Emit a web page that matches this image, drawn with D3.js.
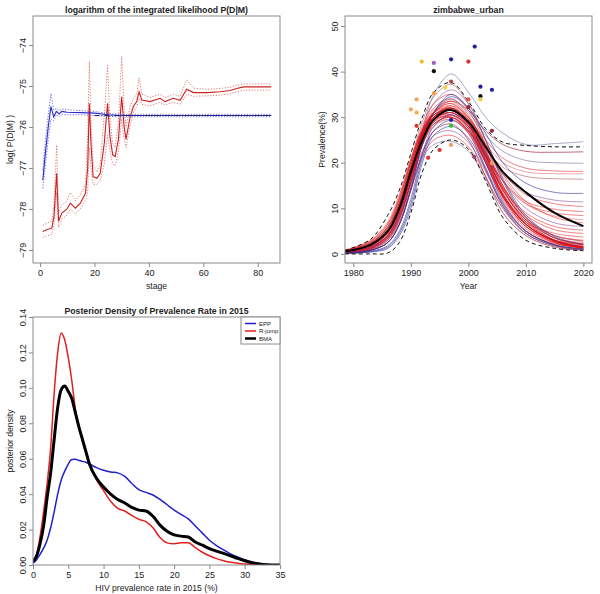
<!DOCTYPE html>
<html><head><meta charset="utf-8">
<script src="https://cdn.jsdelivr.net/npm/d3@7"></script>
<style>
body{margin:0;background:#fff}
svg{display:block}
text{font-family:"Liberation Sans",Arial,sans-serif;fill:#222}
</style>
</head><body>
<svg id="chart" width="600" height="594"></svg>
<script>
// ---------------- DATA ----------------
// Panel 1: log integrated likelihood by stage
const stageBlue = [1,2,3,4,5,6,7,8,9,10,15,20,25,30,85];
const blueMean  = [-77.3,-76.6,-76.0,-75.5,-75.75,-75.62,-75.68,-75.62,-75.63,-75.64,-75.65,-75.66,-75.7,-75.72,-75.72];
const blueUpper = [-77.05,-76.3,-75.7,-75.18,-75.58,-75.55,-75.6,-75.56,-75.57,-75.58,-75.6,-75.62,-75.67,-75.69,-75.69];
const blueLower = [-77.5,-76.9,-76.3,-75.8,-75.85,-75.7,-75.75,-75.7,-75.7,-75.7,-75.7,-75.72,-75.74,-75.75,-75.75];
const refStages = [20,85];
const refLevel  = [-75.72,-75.72];
const stageRed = [1,2.4,4.3,5.1,6.1,6.8,8,9.9,11.1,13,14.8,16.7,17.5,18.1,18.7,19.5,20.9,22.1,23.6,24.8,25.7,26.7,27.6,28.8,30,30.9,31.6,33.1,34.3,35.5,36.4,37.4,40.4,44.1,45.9,49,51.5,53.9,56.4,61.3,66.2,69.9,72.3,74.8,85];
const redMean  = [-78.55,-78.51,-78.47,-78.19,-77.13,-78.3,-78.1,-78.0,-77.86,-77.98,-77.86,-77.62,-77.0,-75.42,-76.4,-77.21,-77.25,-77.13,-76.4,-75.42,-76.24,-76.68,-76.72,-76.3,-75.26,-75.99,-76.3,-75.75,-75.5,-75.38,-75.14,-75.34,-75.38,-75.30,-75.38,-75.30,-75.35,-75.08,-75.16,-75.16,-75.14,-75.11,-75.06,-75.02,-75.02];
const redUpper = [-78.4,-78.35,-78.3,-77.9,-76.44,-78.1,-77.9,-77.8,-77.6,-77.8,-77.65,-77.4,-76.2,-74.4,-75.9,-76.9,-77.1,-76.9,-75.7,-74.5,-75.8,-76.4,-76.5,-75.9,-74.28,-75.6,-76.0,-75.5,-75.3,-75.2,-74.8,-75.2,-75.28,-75.2,-75.28,-75.2,-75.25,-74.85,-75.05,-75.08,-75.06,-75.03,-74.98,-74.95,-74.95];
const redLower = [-78.7,-78.66,-78.62,-78.4,-77.6,-78.45,-78.25,-78.15,-78.0,-78.12,-78.0,-77.8,-77.6,-76.5,-77.0,-77.4,-77.4,-77.3,-76.9,-76.2,-76.6,-76.9,-76.95,-76.6,-75.8,-76.3,-76.5,-75.95,-75.65,-75.5,-75.3,-75.45,-75.48,-75.4,-75.46,-75.4,-75.44,-75.2,-75.25,-75.24,-75.22,-75.19,-75.14,-75.1,-75.1];
const xTicks1 = [0,20,40,60,80];
const yTicks1 = [-79,-78,-77,-76,-75,-74];

// Panel 2: zimbabwe_urban prevalence trajectories
const prevYears = [1978.5,1983,1986,1988,1990,1992,1994,1997,2000,2003,2006,2010,2015,2020];
const prevalenceCurves = [
 [0.3,1.5,4,8.5,17,27,35,39.5,35.5,30,26.5,24,24.2,24.6],
 [0.5,2,5,10,18,26,31,33.5,31.5,27,24,22.5,22.3,22.4],
 [0.4,1.5,4,9,17,25,31,34,31,26,22.5,20.5,20,19.9],
 [0.5,2,5,10,18,26,30,32,29.5,25,21,18.8,18.2,18.1],
 [0.6,2.2,5.5,11,19,26,29,30.5,28,24,20,18,17.6,17.6],
 [0.4,1.8,4.5,9.5,17,24,28,29.5,27,23,19,17,16.5,16.4],
 [0.3,1.2,3.5,8,16,25,31,34.5,32,26.5,20,15.5,13.5,13.3],
 [0.5,2,5,10,18,25,29.5,31,28.5,23,17.5,13.5,11.8,11.4],
 [0.4,1.5,4,9,17,25,30,32,29.5,24,18,13,11,10.4],
 [0.6,2.3,5.5,11,19,26,29.5,30,27,21.5,16,11.5,9.8,9.3],
 [0.4,1.6,4.5,9.5,17.5,25,29,30.5,28,22,16,11,9,8.4],
 [0.5,2,5,10,18,26,31,33,30,24,17,11,8.3,7.5],
 [0.4,1.5,4,9,17,24.5,29,31,28,21.5,14.5,9,6,5.2],
 [0.5,2,5,10.5,19,26,30,31.5,28.5,22,14.5,8.5,5.3,4.5],
 [0.3,1.2,3.5,8,16,24,28.5,30,27,20,13,7,4.5,3.7],
 [0.6,2.5,6,11.5,20,27,31,32.5,29,22,14,7.5,4,3],
 [0.4,1.5,4,9,17,25,29.5,31,28,20.5,12.5,6,3,2.3],
 [0.3,1,3,7.5,15.5,24,28.5,30,26.5,18.5,10.5,5,2.2,1.5],
 [0.2,0.8,2.5,6.5,14,22,27,28.5,25,17,9,4,1.5,0.8],
 [0.5,2,5,10,18.5,27,33,36,33,25,16,8,3.5,2],
 [0.6,2.3,5.5,11,19.5,28,33,35,31.5,24,15,7.5,3,1.6],
 [0.4,1.8,4.5,10,18,27,32,34,30.5,23,14.5,7,3,1.5],
 [0.5,2,5,10,18,26.5,31,33,29.5,22,13.5,6.5,2.8,1.4],
 [0.3,1.3,3.8,8.5,16.5,25,30,32,28.5,21,13,6.5,2.8,1.3],
 [0.5,2,5,10.5,19,26,29.5,31,27.5,20.5,12.5,6,2.5,1.2],
 [0.3,1.2,3.5,8,15.5,24,28.5,30,27,20,12,5.5,2.4,1.2],
 [0.1,0.5,1.5,4.5,11,21,27,29.3,26.5,19,11,5,2,1],
 [0.1,0.4,1.2,4,10,20,26,28,25.5,18.5,10.5,4.5,1.8,0.9],
 [0.3,1.2,3.5,8,15.5,22.5,26,27,24.5,18,11,5,2,1],
 [0.2,0.8,2.5,6.5,14,21.5,25,26,23.5,17,10,4.5,1.8,0.9],
 [0.3,1,3,7,14.5,21,24,24.7,22.5,16.5,10,4.5,1.8,1],
 [0.2,0.8,2.5,6.5,14.5,24,31,35,32,25,16.5,8.5,3.8,2],
 [0.6,2.5,6,12,20.5,29,34.5,37.2,33,25,16,8,3.5,2],
 [0.5,2,5,10,18,26,30.5,32,29,22.5,15,8,4,2.8],
 [0.7,2.7,6.5,12.5,20.5,27,30,30.5,27,20,12.5,6.5,3,2],
 [0.5,2.2,5.5,11,19,25.5,28.5,29.5,26.5,20,13,7,3.5,2.5],
 [0.4,1.5,4,9,17,26,31.5,33.5,30,22.5,14,7,3,1.8],
 [0.2,0.8,2.5,6.5,14,24,29.5,31.5,28.5,21.5,13,6.5,2.8,1.6],
 [0.8,3,7,13,21,27.5,31,32,28.5,21,13,6.5,2.7,1.4],
 [0.7,2.8,6.5,12,20,27,30.5,31.5,28,20.5,12.5,6,2.5,1.3],
 [0.2,0.6,1.8,5,12,22,28,30.5,27.5,20,11.5,5,2,1.1],
 [0.5,2,5,10,18,26,30,31.5,28.5,21,13,6.5,2.8,1.5],
 [0.6,2.3,5.8,11,19,26.5,30.5,31.5,28.5,21.5,14,7.5,3.5,2.2],
 [0.3,1.1,3.2,7.5,15.5,24.5,30,32.5,30,24,17.5,11.5,8,6.8],
 [0.4,1.6,4.2,9,17,25,29.5,31,28.5,22.5,16,10,6.8,6]
];
const prevMean  = [0.5,2,5,10,18,25,29.5,31.6,29,23.5,18,13.5,9,6.1];
const prevUpper = [0.8,3.2,8.5,14,22,30,35.5,37.6,33.5,27.5,24.5,23.8,23.5,23.5];
const prevLower = [0,0,0.2,2.5,9,18,23,25,23,16,8,3,1.2,0.7];
const obsYears  = [1990,1991,1991,1991,1991.9,1993,1994,1994,1994,1995,1996,1997,1997,1997,1997,1997,2000,2000,2000,2001.1,2001.1,2001,2002.1,2002.1,2002.1,2004.1,2004.1,2004.1];
const obsValues = [31.7,33.9,31.0,28.1,42.2,21.1,41.9,40.1,35.2,22.8,36.5,42.7,37.8,29.4,28.1,23.9,42.2,33.9,32.2,45.5,26.1,21.3,36.7,34.6,33.9,36.0,27.0,19.9];
const xTicks2 = [1980,1990,2000,2010,2020];
const yTicks2 = [0,10,20,30,40,50];

// Panel 3: posterior density of prevalence in 2015
const densX   = [0,0.5,1,1.5,2,2.5,3,3.5,4,4.5,5,5.5,6,6.5,7,7.5,8,9,10,11,12,13,14,15,16,17,18,19,20,21,22,23,24,25,26,27,28,29,30,31,32,33,35];
const densEPP = [0.001,0.003,0.006,0.0095,0.014,0.021,0.030,0.040,0.048,0.053,0.057,0.0595,0.0597,0.059,0.0585,0.058,0.057,0.055,0.0535,0.0525,0.052,0.050,0.046,0.0425,0.041,0.0395,0.037,0.034,0.031,0.0285,0.026,0.022,0.018,0.014,0.011,0.0085,0.0063,0.0045,0.003,0.0018,0.001,0.0004,0];
const densRJ  = [0.002,0.006,0.016,0.030,0.046,0.066,0.097,0.12,0.131,0.127,0.117,0.104,0.088,0.078,0.070,0.063,0.057,0.048,0.042,0.036,0.032,0.0305,0.028,0.0258,0.0245,0.021,0.0155,0.0125,0.012,0.0125,0.0125,0.0098,0.0072,0.0052,0.0036,0.0024,0.0015,0.001,0.0006,0.0003,0.0001,0,0];
const densBMA = [0.002,0.005,0.012,0.022,0.038,0.052,0.071,0.089,0.099,0.101,0.098,0.094,0.086,0.078,0.071,0.064,0.057,0.049,0.044,0.040,0.037,0.035,0.0325,0.031,0.0305,0.0275,0.0225,0.019,0.017,0.0163,0.0158,0.013,0.0112,0.0093,0.0078,0.0066,0.0052,0.0037,0.0024,0.0013,0.0006,0.0002,0];
const legendLabels = ["EPP","R-jump","BMA"];
const xTicks3 = [0,5,10,15,20,25,30,35];
const yTicks3 = [0,0.02,0.04,0.06,0.08,0.10,0.12,0.14];

// ---------------- STYLE ----------------
const C_R="rgba(235,0,0,0.62)", C_DR="rgba(150,20,45,0.8)", C_PK="rgba(220,95,95,0.7)",
      C_NV="rgba(40,40,150,0.75)", C_GB="rgba(105,105,160,0.72)", C_PU="rgba(140,70,140,0.72)", C_BR="rgba(175,80,80,0.72)";
const curveColors = [C_GB,C_DR,C_GB,C_R,C_PK,C_BR,C_NV,C_PU,C_R,C_R,C_R,C_PK,C_R,C_R,C_R,C_R,C_R,C_R,C_DR,C_PU,
  C_R,C_R,C_R,C_R,C_R,C_R,C_NV,C_NV,C_PU,C_R,C_GB,C_NV,C_BR,C_DR,C_R,C_PK,C_R,C_NV,C_R,C_R,C_NV,C_R,C_DR,C_R,C_PU];
const obsColors = ["#F4A460","#F4A460","#F0B040","#E03030","#F0C020","#E03030","#A060C0","#111111","#F0A040","#E03030","#F0D040",
  "#2020A0","#C04040","#2020A0","#30C030","#F0A060","#E03030","#E05050","#A02040","#2020A0","#E03030","#A04070","#2020A0","#111111","#F0D040","#2020A0","#A02040","#F0A060"];
const BOX="#8a8a8a", TICKFS=9, LABFS=8.6, TITLEFS=8.7;

const svg = d3.select("#chart");

function frame(g, x, y, xt, yt, xf, yf, title, xlab, ylab){
  const [x0,x1]=x.range(), [y1,y0]=y.range();
  g.append("rect").attr("x",x0).attr("y",y0).attr("width",x1-x0).attr("height",y1-y0)
    .attr("fill","none").attr("stroke",BOX).attr("stroke-width",1);
  const ax = g.append("g").attr("transform",`translate(0,${y1})`)
    .call(d3.axisBottom(x).tickValues(xt).tickSize(4).tickPadding(3).tickFormat(xf));
  const ay = g.append("g").attr("transform",`translate(${x0},0)`)
    .call(d3.axisLeft(y).tickValues(yt).tickSize(4).tickFormat(yf));
  [ax,ay].forEach(a=>{
    a.select(".domain").remove();
    a.selectAll(".tick line").attr("stroke",BOX);
    a.selectAll(".tick text").attr("font-size",TICKFS).attr("fill","#333")
      .attr("font-family","Liberation Sans, Arial, sans-serif");
  });
  ay.selectAll(".tick text").attr("x",null).attr("dy",null).attr("text-anchor","middle")
    .attr("transform","translate(-7,0) rotate(-90)");
  g.append("text").attr("x",(x0+x1)/2).attr("y",y0-3).attr("text-anchor","middle")
    .attr("font-size",TITLEFS).attr("font-weight","bold").text(title);
  g.append("text").attr("x",(x0+x1)/2).attr("y",y1+26).attr("text-anchor","middle")
    .attr("font-size",LABFS).attr("fill","#333").text(xlab);
  g.append("text").attr("transform",`translate(${x0-20},${(y0+y1)/2}) rotate(-90)`)
    .attr("text-anchor","middle").attr("font-size",LABFS).attr("fill","#333").text(ylab);
}
function clip(id,x,y){
  const [x0,x1]=x.range(), [y1,y0]=y.range();
  svg.append("clipPath").attr("id",id).append("rect").attr("x",x0).attr("y",y0).attr("width",x1-x0).attr("height",y1-y0);
}

// ---------- Panel 1 ----------
{
  const x = d3.scaleLinear().domain([-2.6,88.2]).range([33,280]);
  const y = d3.scaleLinear().domain([-79.32,-73.29]).range([263,16]);
  const g = svg.append("g");
  clip("c1",x,y);
  const pg = g.append("g").attr("clip-path","url(#c1)");
  const line = (xs,ys)=>d3.line().x((d,i)=>x(xs[i])).y(d=>y(d))(ys);
  pg.append("path").attr("d",line(stageRed,redUpper)).attr("fill","none").attr("stroke","#e06a6a").attr("stroke-width",0.9).attr("stroke-dasharray","1.2,1.6");
  pg.append("path").attr("d",line(stageRed,redLower)).attr("fill","none").attr("stroke","#e06a6a").attr("stroke-width",0.9).attr("stroke-dasharray","1.2,1.6");
  pg.append("path").attr("d",line(stageRed,redMean)).attr("fill","none").attr("stroke","#cc2020").attr("stroke-width",1.1);
  pg.append("path").attr("d",line(stageBlue,blueUpper)).attr("fill","none").attr("stroke","#5a5ae0").attr("stroke-width",0.9).attr("stroke-dasharray","1.2,1.6");
  pg.append("path").attr("d",line(stageBlue,blueLower)).attr("fill","none").attr("stroke","#5a5ae0").attr("stroke-width",0.9).attr("stroke-dasharray","1.2,1.6");
  pg.append("path").attr("d",line(stageBlue,blueMean)).attr("fill","none").attr("stroke","#2a2acc").attr("stroke-width",1.1);
  pg.append("path").attr("d",line(refStages,refLevel)).attr("fill","none").attr("stroke","#222255").attr("stroke-width",1).attr("stroke-dasharray","5,2,1,2");
  frame(g,x,y,xTicks1,yTicks1,d3.format("d"),d3.format("d"),"logarithm of the integrated likelihood P(D|M)","stage","log( P(D|M) )");
}

// ---------- Panel 2 ----------
{
  const x = d3.scaleLinear().domain([1978.55,2021.5]).range([345,592]);
  const y = d3.scaleLinear().domain([-2,52.2]).range([263,16]);
  const g = svg.append("g");
  clip("c2",x,y);
  const pg = g.append("g").attr("clip-path","url(#c2)");
  const line = d3.line().x((d,i)=>x(prevYears[i])).y(d=>y(d)).curve(d3.curveCatmullRom.alpha(0.5));
  prevalenceCurves.forEach((c,i)=>{
    pg.append("path").attr("d",line(c)).attr("fill","none").attr("stroke",curveColors[i]).attr("stroke-width",0.8);
  });
  pg.append("path").attr("d",line(prevUpper)).attr("fill","none").attr("stroke","#111").attr("stroke-width",1).attr("stroke-dasharray","4,3");
  pg.append("path").attr("d",line(prevLower)).attr("fill","none").attr("stroke","#111").attr("stroke-width",1).attr("stroke-dasharray","4,3");
  pg.append("path").attr("d",line(prevMean)).attr("fill","none").attr("stroke","#000").attr("stroke-width",2);
  pg.selectAll("circle").data(obsValues).join("circle")
    .attr("cx",(d,i)=>x(obsYears[i])).attr("cy",d=>y(d)).attr("r",2.1).attr("fill",(d,i)=>obsColors[i]);
  frame(g,x,y,xTicks2,yTicks2,d3.format("d"),d3.format("d"),"zimbabwe_urban","Year","Prevalence(%)");
}

// ---------- Panel 3 ----------
{
  const x = d3.scaleLinear().domain([0,35]).range([33,280]);
  const y = d3.scaleLinear().domain([0,0.14]).range([565,317]);
  const g = svg.append("g");
  clip("c3",x,y);
  const pg = g.append("g").attr("clip-path","url(#c3)");
  const line = d3.line().x((d,i)=>x(densX[i])).y(d=>y(d)).curve(d3.curveMonotoneX);
  pg.append("path").attr("d",line(densEPP)).attr("fill","none").attr("stroke","#2020cc").attr("stroke-width",1.5);
  pg.append("path").attr("d",line(densRJ)).attr("fill","none").attr("stroke","#e02020").attr("stroke-width",1.5);
  pg.append("path").attr("d",line(densBMA)).attr("fill","none").attr("stroke","#000").attr("stroke-width",3);
  frame(g,x,y,xTicks3,yTicks3,d3.format("d"),d3.format(".2f"),"Posterior Density of Prevalence Rate in 2015","HIV prevalence rate in 2015 (%)","posterior density");
  // legend
  const lg = g.append("g");
  lg.append("rect").attr("x",241).attr("y",317).attr("width",39).attr("height",27).attr("fill","#fff").attr("stroke",BOX);
  const lcol=["#2020cc","#e02020","#000"], lw=[1.5,1.5,2.5];
  legendLabels.forEach((t,i)=>{
    const yy = 323.5 + i*7.5;
    lg.append("line").attr("x1",245).attr("x2",256).attr("y1",yy).attr("y2",yy).attr("stroke",lcol[i]).attr("stroke-width",lw[i]);
    lg.append("text").attr("x",259).attr("y",yy+2).attr("font-size",6).attr("fill","#333").text(t);
  });
}
</script>
</body></html>
